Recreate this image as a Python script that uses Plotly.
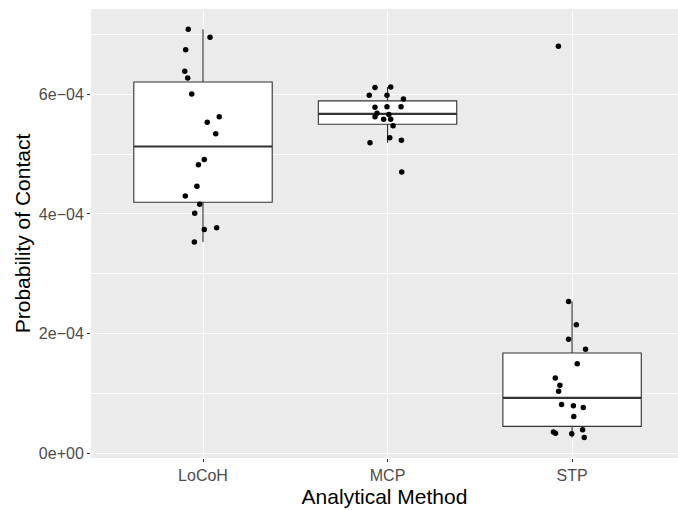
import numpy as np
import plotly.graph_objects as go

# ---- data ----
categories = ["LoCoH", "MCP", "STP"]

locoh_values = [7.08, 6.95, 6.74, 6.38, 6.27, 6.00, 5.62, 5.53, 5.34,
                4.91, 4.82, 4.46, 4.30, 4.16, 4.01, 3.77, 3.74, 3.53]
locoh_jitter = [-0.080, 0.038, -0.094, -0.099, -0.083, -0.061, 0.088, 0.023, 0.069,
                0.007, -0.025, -0.033, -0.096, -0.018, -0.045, 0.074, 0.007, -0.047]

mcp_values = [6.11, 6.12, 5.98, 5.98, 5.92, 5.78, 5.79, 5.79, 5.68,
              5.66, 5.62, 5.58, 5.58, 5.47, 5.27, 5.19, 5.23, 4.70]
mcp_jitter = [-0.068, 0.017, -0.099, -0.003, 0.086, -0.068, -0.003, 0.073, -0.057,
              0.007, -0.068, -0.021, 0.017, 0.030, 0.012, -0.095, 0.075, 0.077]

stp_values = [6.80, 2.54, 2.15, 1.91, 1.74, 1.50, 1.26, 1.14, 1.04,
              0.82, 0.80, 0.77, 0.62, 0.36, 0.34, 0.40, 0.33, 0.27]
stp_jitter = [-0.074, -0.019, 0.023, -0.019, 0.073, 0.028, -0.091, -0.066, -0.073,
              -0.057, 0.007, 0.061, 0.009, -0.101, -0.090, 0.057, -0.002, 0.066]

scale = 1e-4  # values above are in units of 1e-4

y_tickvals = [0, 2e-4, 4e-4, 6e-4]
y_ticktext = ["0e+00", "2e\u221204", "4e\u221204", "6e\u221204"]

groups = [locoh_values, mcp_values, stp_values]
jitters = [locoh_jitter, mcp_jitter, stp_jitter]

BOX_W = 0.75
LINE_C = "#333333"

fig = go.Figure()

medians_x, medians_y = [], []
for i, vals in enumerate(groups):
    v = np.array(vals) * scale
    q1, med, q3 = np.percentile(v, [25, 50, 75])
    iqr = q3 - q1
    lo = v[v >= q1 - 1.5 * iqr].min()
    hi = v[v <= q3 + 1.5 * iqr].max()
    fig.add_trace(go.Box(
        x=[i], q1=[q1], median=[med], q3=[q3], lowerfence=[lo], upperfence=[hi],
        width=BOX_W, whiskerwidth=0, boxpoints=False,
        fillcolor="white", line=dict(color=LINE_C, width=1.1),
        showlegend=False, hoverinfo="skip"))
    medians_x += [i - BOX_W / 2, i + BOX_W / 2, None]
    medians_y += [med, med, None]

fig.add_trace(go.Scatter(x=medians_x, y=medians_y, mode="lines",
                         line=dict(color=LINE_C, width=2.2),
                         showlegend=False, hoverinfo="skip"))

for i, (vals, jit) in enumerate(zip(groups, jitters)):
    fig.add_trace(go.Scatter(
        x=[i + j for j in jit], y=[v * scale for v in vals], mode="markers",
        marker=dict(color="black", size=5.5, symbol="circle"),
        showlegend=False))

FONT = "Liberation Sans, Arial, sans-serif"
fig.update_layout(
    width=678, height=510,
    margin=dict(l=91, r=0, t=9, b=52, autoexpand=False),
    paper_bgcolor="white", plot_bgcolor="#EBEBEB",
    font=dict(family=FONT),
    xaxis=dict(
        range=[-0.607, 2.574], tickvals=list(range(len(categories))), ticktext=categories,
        showgrid=True, gridcolor="white", gridwidth=1.1, zeroline=False,
        ticks="outside", ticklen=3, tickcolor=LINE_C, tickwidth=1,
        tickfont=dict(size=16, color="#4D4D4D", family=FONT),
        title=dict(text="Analytical Method", font=dict(size=21, color="black", family=FONT), standoff=6),
        showline=False, fixedrange=True, automargin=False),
    yaxis=dict(
        range=[-7.3e-6, 7.42e-4], tickvals=y_tickvals, ticktext=y_ticktext,
        showgrid=True, gridcolor="white", gridwidth=1.1, zeroline=False,
        minor=dict(dtick=1e-4, tick0=1e-4, showgrid=True, gridcolor="white", gridwidth=0.5, ticks=""),
        ticks="outside", ticklen=3, tickcolor=LINE_C, tickwidth=1,
        tickfont=dict(size=16, color="#4D4D4D", family=FONT),
        title=dict(text="Probability of Contact", font=dict(size=21, color="black", family=FONT), standoff=2),
        showline=False, fixedrange=True, automargin=False),
)

fig.write_html(
    "out.html",
    config={"displayModeBar": False},
    post_script="document.body.style.margin='0';document.body.style.overflow='hidden';",
)
